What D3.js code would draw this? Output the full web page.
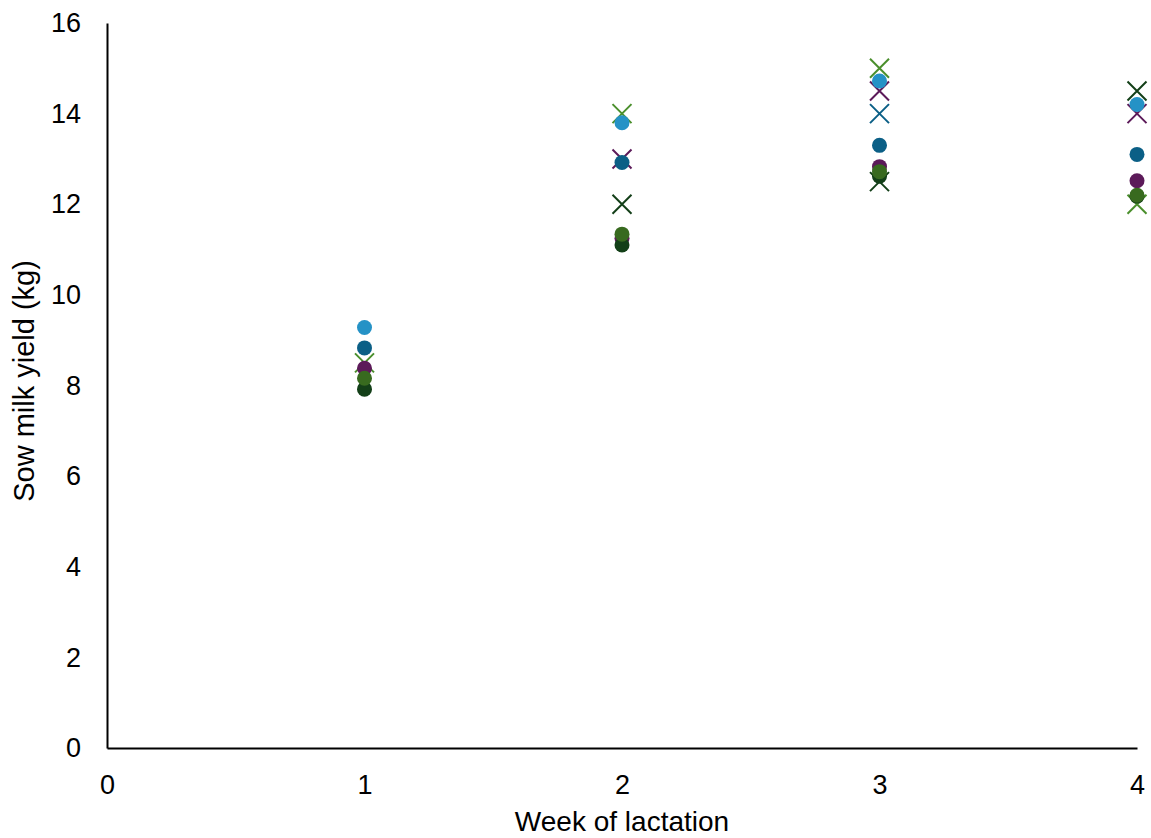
<!DOCTYPE html>
<html>
<head>
<meta charset="utf-8">
<script src="https://cdn.jsdelivr.net/npm/d3@7"></script>
<style>
  body { margin: 0; background: #fff; }
  text { font-family: "Liberation Sans", Arial, sans-serif; }
</style>
</head>
<body>
<div id="chart"></div>
<script>
// weeks of lactation
var weeks = [1, 2, 3, 4];
var xTicks = [0, 1, 2, 3, 4];
var yTicks = [0, 2, 4, 6, 8, 10, 12, 14, 16];

// cross-marker series (drawn first, circles sit on top); null = not visible
var crossGreen = [8.5, 14.0, 15.0, 12.0];
var crossTeal = [null, null, 14.0, null];
var crossPurple = [null, 13.0, 14.5, 14.0];
var crossDarkGreen = [null, 12.0, 12.5, 14.5];

// circle-marker series
var dotBlue = [9.28, 13.8, 14.72, 14.2];
var dotTeal = [8.83, 12.92, 13.3, 13.1];
var dotPurple = [8.38, 11.25, 12.83, 12.52];
var dotDarkGreen = [7.92, 11.1, 12.62, 12.18];
var dotGreen = [8.16, 11.34, 12.72, 12.2];

var series = [
    {name: "crossGreen", values: crossGreen, shape: "x", color: "#4a8f2c"},
    {name: "crossTeal", values: crossTeal, shape: "x", color: "#0b5f86"},
    {name: "crossPurple", values: crossPurple, shape: "x", color: "#5c1a59"},
    {name: "crossDarkGreen", values: crossDarkGreen, shape: "x", color: "#133f18"},
    {name: "dotBlue", values: dotBlue, shape: "o", color: "#2592c6"},
    {name: "dotTeal", values: dotTeal, shape: "o", color: "#0b5f86"},
    {name: "dotPurple", values: dotPurple, shape: "o", color: "#5c1a59"},
    {name: "dotDarkGreen", values: dotDarkGreen, shape: "o", color: "#133f18"},
    {name: "dotGreen", values: dotGreen, shape: "o", color: "#386a1f"}
];

var width = 1151, height = 838;
var margin = {left: 107, right: 14, top: 23, bottom: 90};

var svg = d3.select("#chart").append("svg")
    .attr("width", width)
    .attr("height", height);

var x = d3.scaleLinear().domain([0, 4]).range([margin.left, width - margin.right]);
var y = d3.scaleLinear().domain([0, 16]).range([height - margin.bottom, margin.top]);

// axes: plain lines, no tick marks
var xAxis = d3.axisBottom(x).tickValues(xTicks).tickSize(0).tickPadding(27).tickFormat(d3.format("d"));
var yAxis = d3.axisLeft(y).tickValues(yTicks).tickSize(0).tickPadding(26).tickFormat(d3.format("d"));

svg.append("g")
    .attr("transform", "translate(0," + y(0) + ")")
    .call(xAxis)
    .call(g => g.select(".domain").attr("stroke", "#000").attr("stroke-width", 2))
    .call(g => g.selectAll("text").attr("font-size", 27).attr("fill", "#000")
        .attr("font-family", "Liberation Sans, Arial, sans-serif"));

svg.append("g")
    .attr("transform", "translate(" + x(0) + ",0)")
    .call(yAxis)
    .call(g => g.select(".domain").attr("stroke", "#000").attr("stroke-width", 2))
    .call(g => g.selectAll("text").attr("font-size", 27).attr("fill", "#000")
        .attr("font-family", "Liberation Sans, Arial, sans-serif"));

// axis titles
svg.append("text")
    .attr("x", (x(0) + x(4)) / 2)
    .attr("y", 831)
    .attr("text-anchor", "middle")
    .attr("font-size", 28)
    .text("Week of lactation");

svg.append("text")
    .attr("transform", "translate(34," + y(8.1) + ") rotate(-90)")
    .attr("text-anchor", "middle")
    .attr("font-size", 29)
    .text("Sow milk yield (kg)");

// markers
var plot = svg.append("g");
var xs = 9.5;

series.forEach(function (s) {
    var pts = weeks.map(function (w, i) { return {w: w, v: s.values[i]}; })
        .filter(d => d.v != null);
    var g = plot.append("g").attr("class", s.name);
    if (s.shape === "o") {
        g.selectAll("circle")
            .data(pts)
            .join("circle")
            .attr("cx", d => x(d.w))
            .attr("cy", d => y(d.v))
            .attr("r", 7.5)
            .attr("fill", s.color);
    } else {
        g.selectAll("path")
            .data(pts)
            .join("path")
            .attr("d", function (d) {
                var cx = x(d.w), cy = y(d.v);
                return "M" + (cx - xs) + "," + (cy - xs) + "L" + (cx + xs) + "," + (cy + xs) +
                    "M" + (cx - xs) + "," + (cy + xs) + "L" + (cx + xs) + "," + (cy - xs);
            })
            .attr("stroke", s.color)
            .attr("stroke-width", 2)
            .attr("fill", "none");
    }
});
</script>
</body>
</html>
